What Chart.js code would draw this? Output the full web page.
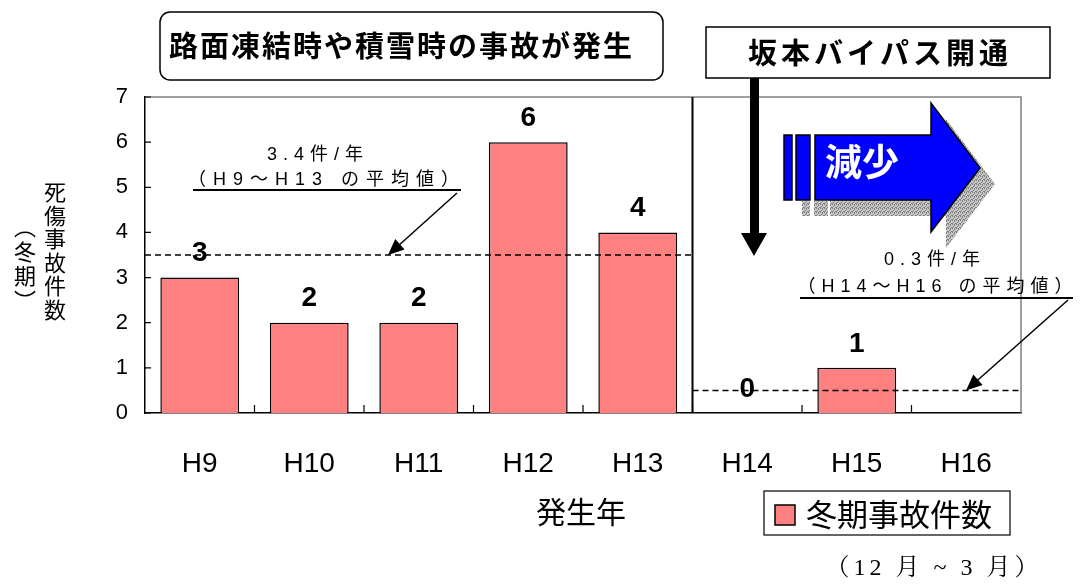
<!DOCTYPE html>
<html>
<head>
<meta charset="utf-8">
<script src="https://cdn.jsdelivr.net/npm/chart.js@4.4.1/dist/chart.umd.min.js"></script>
<style>
  html, body { margin: 0; padding: 0; background: #fff; }
</style>
</head>
<body>
<canvas id="chart" width="1081" height="584"></canvas>
<script>
// data
const years = ["H9", "H10", "H11", "H12", "H13", "H14", "H15", "H16"];
const accidents = [3, 2, 2, 6, 4, 0, 1, 0];
const showValue = [true, true, true, true, true, true, true, false]; // H16 has no label
const yTicks = [0, 1, 2, 3, 4, 5, 6, 7];
// dashed average lines, as drawn (before / after the bypass opened)
const avgBefore = 3.5;
const avgAfter = 0.5;
const splitIndex = 5; // bypass opens between H13 and H14

const SANS = "'Liberation Sans', 'Noto Sans CJK JP', sans-serif";
const JP = "'Noto Sans CJK JP', sans-serif";

function arrow(ctx, x1, y1, x2, y2, len, half, lw) {
  const a = Math.atan2(y2 - y1, x2 - x1);
  ctx.save();
  ctx.lineWidth = lw;
  ctx.strokeStyle = "#000";
  ctx.fillStyle = "#000";
  ctx.beginPath();
  ctx.moveTo(x1, y1);
  ctx.lineTo(x2 - Math.cos(a) * len * 0.8, y2 - Math.sin(a) * len * 0.8);
  ctx.stroke();
  ctx.beginPath();
  ctx.moveTo(x2, y2);
  ctx.lineTo(x2 - Math.cos(a) * len - Math.sin(a) * half, y2 - Math.sin(a) * len + Math.cos(a) * half);
  ctx.lineTo(x2 - Math.cos(a) * len + Math.sin(a) * half, y2 - Math.sin(a) * len - Math.cos(a) * half);
  ctx.closePath();
  ctx.fill();
  ctx.restore();
}

function spaced(ctx, text, x, y, font, spacing, align) {
  ctx.save();
  ctx.font = font;
  ctx.letterSpacing = spacing + "px";
  ctx.textAlign = align || "center";
  ctx.textBaseline = "middle";
  ctx.fillStyle = "#000";
  ctx.fillText(text, x, y);
  ctx.restore();
}

const extras = {
  id: "extras",
  afterDatasetsDraw(chart) {
    const ctx = chart.ctx;
    const a = chart.chartArea;
    const y = chart.scales.y;
    const catW = (a.right - a.left) / years.length;
    const splitX = a.left + catW * splitIndex;

    // grey top / right frame
    ctx.save();
    ctx.strokeStyle = "#808080";
    ctx.lineWidth = 1.5;
    ctx.beginPath();
    ctx.moveTo(a.left, a.top);
    ctx.lineTo(a.right, a.top);
    ctx.lineTo(a.right, a.bottom);
    ctx.stroke();

    // inner tick marks
    ctx.strokeStyle = "#000";
    ctx.lineWidth = 1.2;
    ctx.beginPath();
    yTicks.forEach(v => {
      const py = y.getPixelForValue(v);
      ctx.moveTo(a.left, py);
      ctx.lineTo(a.left + 6, py);
    });
    for (let i = 1; i < years.length; i++) {
      const px = a.left + catW * i;
      ctx.moveTo(px, a.bottom);
      ctx.lineTo(px, a.bottom - 8);
    }
    ctx.stroke();

    // separator line
    ctx.lineWidth = 2;
    ctx.beginPath();
    ctx.moveTo(splitX, a.top);
    ctx.lineTo(splitX, a.bottom);
    ctx.stroke();

    // dashed average lines
    ctx.lineWidth = 1.5;
    ctx.setLineDash([6, 4]);
    ctx.beginPath();
    ctx.moveTo(a.left, y.getPixelForValue(avgBefore));
    ctx.lineTo(splitX, y.getPixelForValue(avgBefore));
    ctx.moveTo(splitX, y.getPixelForValue(avgAfter));
    ctx.lineTo(a.right, y.getPixelForValue(avgAfter));
    ctx.stroke();
    ctx.setLineDash([]);
    ctx.restore();

    // value labels
    const meta = chart.getDatasetMeta(0);
    ctx.save();
    ctx.font = "bold 28px " + SANS;
    ctx.textAlign = "center";
    ctx.textBaseline = "middle";
    ctx.fillStyle = "#000";
    meta.data.forEach((bar, i) => {
      if (!showValue[i]) return;
      ctx.fillText(String(accidents[i]), bar.x, bar.y - 24);
    });
    ctx.restore();

    // average annotations
    const yB = y.getPixelForValue(avgBefore);
    const yA = y.getPixelForValue(avgAfter);
    spaced(ctx, "3.4件/年", 318, 155, "18px " + SANS, 6);
    spaced(ctx, "（H9～H13 の平均値）", 327, 180, "18px " + SANS, 7);
    ctx.save();
    ctx.lineWidth = 2;
    ctx.beginPath();
    ctx.moveTo(193, 190);
    ctx.lineTo(461, 190);
    ctx.stroke();
    ctx.restore();
    arrow(ctx, 457, 193, 388, yB, 16, 7, 1.5);

    spaced(ctx, "0.3件/年", 935, 260, "18px " + SANS, 6);
    spaced(ctx, "（H14～H16 の平均値）", 938, 287, "18px " + SANS, 6);
    ctx.save();
    ctx.lineWidth = 2;
    ctx.beginPath();
    ctx.moveTo(800, 298);
    ctx.lineTo(1073, 298);
    ctx.stroke();
    ctx.restore();
    arrow(ctx, 1068, 300, 966, yA, 16, 7, 1.5);

    // callout boxes
    ctx.save();
    ctx.lineWidth = 1.5;
    ctx.strokeStyle = "#000";
    ctx.fillStyle = "#fff";
    ctx.beginPath();
    ctx.roundRect(160, 12, 503, 68, 10);
    ctx.fill();
    ctx.stroke();
    ctx.beginPath();
    ctx.rect(706, 27, 344, 51);
    ctx.fill();
    ctx.stroke();
    ctx.restore();
    spaced(ctx, "路面凍結時や積雪時の事故が発生", 169, 46, "bold 29px " + JP, 2, "left");
    spaced(ctx, "坂本バイパス開通", 880, 53, "bold 29px " + JP, 4);

    // down arrow from the bypass box
    ctx.save();
    ctx.fillStyle = "#000";
    ctx.fillRect(750, 78, 9, 158);
    ctx.beginPath();
    ctx.moveTo(741, 233);
    ctx.lineTo(767, 233);
    ctx.lineTo(754, 256);
    ctx.closePath();
    ctx.fill();
    ctx.restore();

    // blue "減少" arrow with speckled shadow
    const pc = document.createElement("canvas");
    pc.width = 4; pc.height = 4;
    const p = pc.getContext("2d");
    p.fillStyle = "#c8c8c8"; p.fillRect(0, 0, 4, 4);
    p.fillStyle = "#808080";
    p.fillRect(0, 0, 1, 1); p.fillRect(2, 1, 1, 1); p.fillRect(1, 2, 1, 1); p.fillRect(3, 3, 1, 1);
    p.fillRect(2, 0, 1, 1); p.fillRect(0, 3, 1, 1);
    const shape = (dx, dy) => {
      ctx.beginPath();
      ctx.moveTo(815 + dx, 135 + dy);
      ctx.lineTo(931 + dx, 135 + dy);
      ctx.lineTo(931 + dx, 103 + dy);
      ctx.lineTo(980 + dx, 168 + dy);
      ctx.lineTo(931 + dx, 232 + dy);
      ctx.lineTo(931 + dx, 200 + dy);
      ctx.lineTo(815 + dx, 200 + dy);
      ctx.closePath();
    };
    ctx.save();
    ctx.fillStyle = ctx.createPattern(pc, "repeat");
    shape(15, 16);
    ctx.fill();
    ctx.fillRect(802, 201, 8, 15);
    ctx.fillRect(814, 201, 14, 15);
    ctx.fillStyle = "#0000ff";
    ctx.strokeStyle = "#000";
    ctx.lineWidth = 1.5;
    shape(0, 0);
    ctx.fill();
    ctx.stroke();
    ctx.fillRect(784, 135, 8, 65);
    ctx.strokeRect(784, 135, 8, 65);
    ctx.fillRect(796, 135, 14, 65);
    ctx.strokeRect(796, 135, 14, 65);
    ctx.font = "bold 37px " + JP;
    ctx.fillStyle = "#fff";
    ctx.textAlign = "left";
    ctx.textBaseline = "middle";
    ctx.fillText("減少", 825, 162);
    ctx.restore();

    // y axis title (vertical)
    ctx.save();
    ctx.font = "22px " + JP;
    ctx.fillStyle = "#000";
    ctx.textAlign = "center";
    ctx.textBaseline = "middle";
    "死傷事故件数".split("").forEach((c, i) => ctx.fillText(c, 55, 192 + i * 23.5));
    "︵冬期︶".split("").forEach((c, i) => ctx.fillText(c, 25, 227 + i * 24.5));
    ctx.restore();

    // x axis title
    spaced(ctx, "発生年", 581, 512, "30px " + JP, 0);

    // legend
    ctx.save();
    ctx.strokeStyle = "#000";
    ctx.lineWidth = 1.2;
    ctx.strokeRect(764, 491, 246, 44);
    ctx.fillStyle = "#ff8080";
    ctx.lineWidth = 1.5;
    ctx.fillRect(775, 505, 20, 20);
    ctx.strokeRect(775, 505, 20, 20);
    ctx.restore();
    spaced(ctx, "冬期事故件数", 806, 514, "31px " + JP, 0, "left");
    spaced(ctx, "（12 月 ~ 3 月）", 934, 569, "24px 'Liberation Serif', 'Noto Serif CJK JP', " + JP, 4);
  }
};

new Chart(document.getElementById("chart"), {
  type: "bar",
  data: {
    labels: years,
    datasets: [{
      label: "冬期事故件数",
      data: accidents,
      backgroundColor: "#ff8080",
      borderColor: "#000",
      borderWidth: 1.5,
      categoryPercentage: 1,
      barPercentage: 0.72
    }]
  },
  options: {
    responsive: false,
    animation: false,
    layout: { padding: { left: 105, right: 60, top: 97, bottom: 71 } },
    plugins: { legend: { display: false }, tooltip: { enabled: false } },
    scales: {
      x: {
        afterFit: s => { s.height = 100; },
        grid: { display: false, drawTicks: false },
        border: { color: "#000", width: 1.5 },
        ticks: { color: "#000", font: { family: SANS, size: 28 }, padding: 34 }
      },
      y: {
        min: 0,
        max: 7,
        afterFit: s => { s.width = 40; },
        afterBuildTicks: s => { s.ticks = yTicks.map(v => ({ value: v })); },
        grid: { display: false, drawTicks: false },
        border: { color: "#000", width: 1.5 },
        ticks: { color: "#000", font: { family: SANS, size: 22 }, padding: 17 }
      }
    }
  },
  plugins: [extras]
});
</script>
</body>
</html>
